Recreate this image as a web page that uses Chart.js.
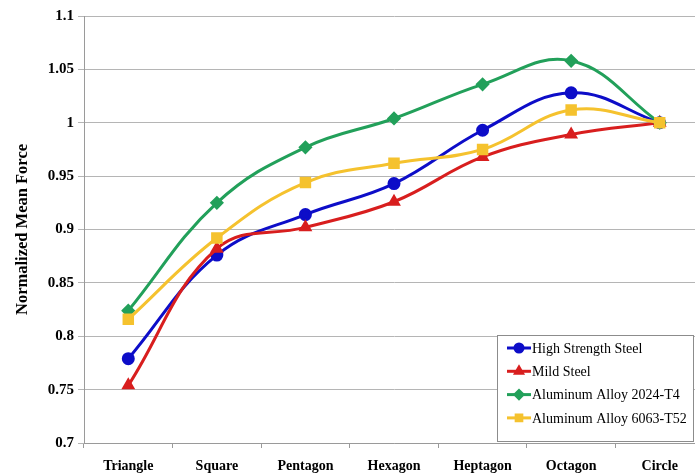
<!DOCTYPE html>
<html>
<head>
<meta charset="utf-8">
<script src="https://cdn.jsdelivr.net/npm/chart.js@4"></script>
<style>
  html, body { margin: 0; padding: 0; background: #fff; overflow: hidden; }
  #wrap { width: 695px; height: 476px; overflow: hidden; }
</style>
</head>
<body>
<div id="wrap"><canvas id="forceChart" width="720" height="476"></canvas></div>
<script>
const shapes = ['Triangle', 'Square', 'Pentagon', 'Hexagon', 'Heptagon', 'Octagon', 'Circle'];
const highStrengthSteel = [0.779, 0.876, 0.914, 0.943, 0.993, 1.028, 1.0];
const mildSteel = [0.754, 0.882, 0.902, 0.926, 0.968, 0.989, 1.0];
const alloy2024 = [0.824, 0.925, 0.977, 1.004, 1.036, 1.058, 1.0];
const alloy6063 = [0.816, 0.892, 0.944, 0.962, 0.975, 1.012, 1.0];
const yTicks = [0.7, 0.75, 0.8, 0.85, 0.9, 0.95, 1, 1.05, 1.1];

const serif = "'Liberation Serif', 'Times New Roman', serif";

// legend box sitting inside the plot, bottom right
const boxLegend = {
    id: 'boxLegend',
    afterDraw(chart) {
        const ctx = chart.ctx;
        const x = 497, y = 335, w = 196, h = 106;
        ctx.save();
        ctx.fillStyle = '#fff';
        ctx.fillRect(x, y, w, h);
        ctx.strokeStyle = '#8c8c8c';
        ctx.lineWidth = 1;
        ctx.strokeRect(x + 0.5, y + 0.5, w, h);
        chart.data.datasets.forEach((ds, i) => {
            const cy = y + 13 + i * 23.3;
            ctx.strokeStyle = ds.borderColor;
            ctx.fillStyle = ds.borderColor;
            ctx.lineWidth = 3;
            ctx.beginPath();
            ctx.moveTo(x + 10, cy);
            ctx.lineTo(x + 34, cy);
            ctx.stroke();
            Chart.helpers.drawPoint(ctx, {
                pointStyle: ds.pointStyle, radius: 4, borderWidth: 1, rotation: 0
            }, x + 22, cy);
            ctx.fillStyle = '#000';
            ctx.font = '14px ' + serif;
            ctx.textBaseline = 'middle';
            ctx.textAlign = 'left';
            ctx.fillText(ds.label, x + 35, cy + 1);
        });
        ctx.restore();
    }
};

function series(label, data, color, style, radius, order) {
    return {
        label: label,
        data: data,
        borderColor: color,
        backgroundColor: color,
        pointBackgroundColor: color,
        pointBorderColor: color,
        pointStyle: style,
        pointRadius: radius,
        borderWidth: 3,
        tension: 0.4,
        order: order
    };
}

const ctx = document.getElementById('forceChart').getContext('2d');
const chart = new Chart(ctx, {
    type: 'line',
    data: {
        labels: shapes,
        datasets: [
            series('High Strength Steel', highStrengthSteel, '#0d0dc8', 'circle', 5, 4),
            series('Mild Steel', mildSteel, '#d81e1e', 'triangle', 5, 3),
            series('Aluminum Alloy 2024-T4', alloy2024, '#22a05a', 'rectRot', 5, 2),
            series('Aluminum Alloy 6063-T52', alloy6063, '#f5c22e', 'rect', 6, 1)
        ]
    },
    options: {
        responsive: false,
        animation: false,
        layout: { padding: { top: 16, right: 16, left: 0, bottom: 0 } },
        plugins: {
            legend: { display: false },
            tooltip: { enabled: false }
        },
        scales: {
            x: {
                offset: true,
                grid: { offset: true, drawOnChartArea: false, drawTicks: true, tickLength: 5, color: '#9a9a9a' },
                border: { color: '#9a9a9a' },
                ticks: { color: '#000', font: { family: serif, size: 14, weight: 'bold' }, padding: 10, maxRotation: 0 },
                afterFit: s => { s.height = 33; }
            },
            y: {
                min: 0.7,
                max: 1.1,
                afterBuildTicks: s => { s.ticks = yTicks.map(v => ({ value: v })); },
                grid: { color: '#b5b5b5', tickLength: 6 },
                border: { color: '#9a9a9a' },
                ticks: {
                    color: '#000',
                    font: { family: serif, size: 15, weight: 'bold' },
                    padding: 4,
                    callback: v => String(+v.toFixed(2))
                },
                title: {
                    display: true,
                    text: 'Normalized Mean Force',
                    color: '#000',
                    font: { family: serif, size: 16.5, weight: 'bold' },
                    padding: { top: 13, bottom: 0 }
                },
                afterFit: s => { s.width = 84; }
            }
        }
    },
    plugins: [boxLegend]
});
</script>
</body>
</html>
